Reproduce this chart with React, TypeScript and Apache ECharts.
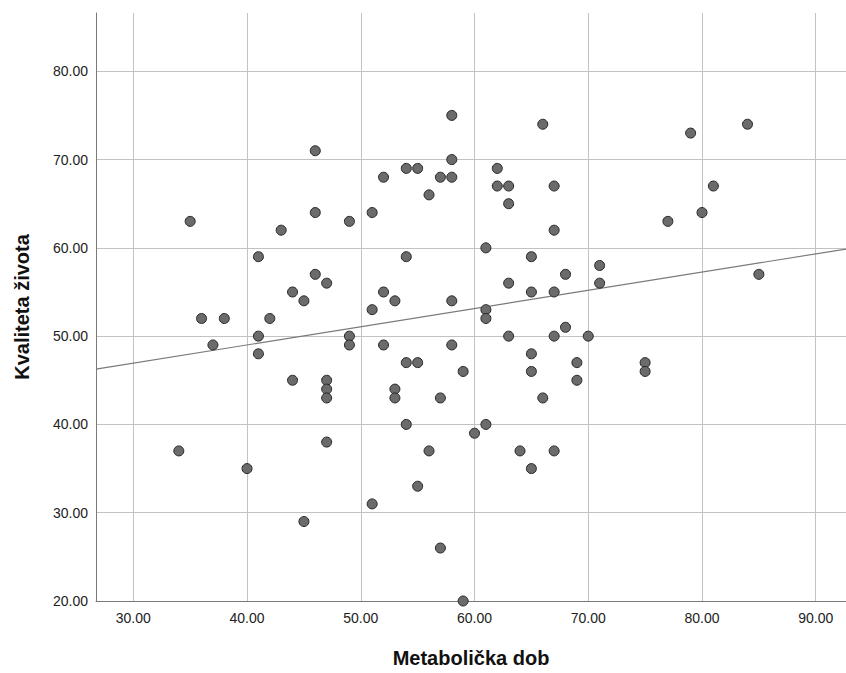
import React, { useEffect, useRef } from "react";
import * as echarts from "echarts";

const metabolickaDob: number[] = [
  35, 43, 34, 40, 45, 46, 58, 58, 54, 55, 52, 57, 58, 56, 46, 49, 51, 41, 54, 46,
  47, 44, 45, 52, 53, 51, 58, 36, 38, 42, 37, 41, 41, 49, 49, 52, 58, 54, 55,
  66, 79, 84, 62, 62, 63, 63, 67, 67, 81, 80, 77, 61, 65, 71, 85, 68, 63, 71, 65,
  67, 61, 61, 63, 67, 68, 70, 65, 69, 75, 75, 65, 59,
  44, 47, 47, 47, 53, 53, 57, 54, 47, 56, 55, 51, 57, 69, 66, 61, 60, 64, 67, 65, 59,
];
const kvalitetaZivota: number[] = [
  63, 62, 37, 35, 29, 71, 75, 70, 69, 69, 68, 68, 68, 66, 64, 63, 64, 59, 59, 57,
  56, 55, 54, 55, 54, 53, 54, 52, 52, 52, 49, 50, 48, 50, 49, 49, 49, 47, 47,
  74, 73, 74, 69, 67, 67, 65, 67, 62, 67, 64, 63, 60, 59, 58, 57, 57, 56, 56, 55,
  55, 53, 52, 50, 50, 51, 50, 48, 47, 47, 46, 46, 46,
  45, 45, 44, 43, 44, 43, 43, 40, 38, 37, 33, 31, 26, 45, 43, 40, 39, 37, 37, 35, 20,
];

const xTicks: number[] = [30, 40, 50, 60, 70, 80, 90];
const yTicks: number[] = [20, 30, 40, 50, 60, 70, 80];
const xRange: number[] = [26.72, 92.66];
const yRange: number[] = [20, 86.6];
const fitIntercept = 40.75;
const fitSlope = 0.2063;

export default function App() {
  const ref = useRef<HTMLDivElement>(null);
  useEffect(() => {
    document.body.style.margin = "0";
    document.body.style.overflow = "hidden";
    if (!ref.current) return;
    const chart = echarts.init(ref.current, undefined, { renderer: "svg", width: 846, height: 673 });
    const points = metabolickaDob.map((x, i) => [x, kvalitetaZivota[i]]);
    const fitLine = xRange.map((x) => [x, fitIntercept + fitSlope * x]);
    const font = "'Liberation Sans', Arial, sans-serif";
    chart.setOption({
      animation: false,
      backgroundColor: "#ffffff",
      grid: { left: 96, right: 0, top: 13, bottom: 66, containLabel: false },
      xAxis: {
        type: "value",
        min: xRange[0],
        max: xRange[1],
        name: "Metabolička dob",
        nameLocation: "middle",
        nameGap: 47,
        nameTextStyle: { fontFamily: font, fontSize: 20, fontWeight: "bold", color: "#111" },
        axisLine: { show: true, lineStyle: { color: "#7a7a7a", width: 1 } },
        axisTick: { show: false, customValues: xTicks },
        axisLabel: {
          customValues: xTicks,
          formatter: (v: number) => v.toFixed(2),
          fontFamily: font,
          fontSize: 14,
          color: "#222",
          margin: 10,
        },
        splitLine: { show: true, lineStyle: { color: "#c2c2c2", width: 1 } },
      },
      yAxis: {
        type: "value",
        min: yRange[0],
        max: yRange[1],
        name: "Kvaliteta života",
        nameLocation: "middle",
        nameGap: 64,
        nameTextStyle: { fontFamily: font, fontSize: 20, fontWeight: "bold", color: "#111" },
        axisLine: { show: true, lineStyle: { color: "#7a7a7a", width: 1 } },
        axisTick: { show: false, customValues: yTicks },
        axisLabel: {
          customValues: yTicks,
          formatter: (v: number) => v.toFixed(2),
          fontFamily: font,
          fontSize: 14,
          color: "#222",
          margin: 8,
        },
        splitLine: { show: true, lineStyle: { color: "#c2c2c2", width: 1 } },
      },
      series: [
        {
          type: "line",
          data: fitLine,
          showSymbol: false,
          symbol: "none",
          lineStyle: { color: "#7a7a7a", width: 1.2 },
          silent: true,
          z: 2,
        },
        {
          type: "scatter",
          data: points,
          symbol: "circle",
          symbolSize: 10,
          itemStyle: { color: "#6b6b6b", borderColor: "#262626", borderWidth: 1, opacity: 1 },
          z: 3,
        },
      ],
    });
    return () => chart.dispose();
  }, []);
  return (
    <div
      ref={ref}
      style={{ width: 846, height: 673, background: "#fff", overflow: "hidden" }}
    />
  );
}
